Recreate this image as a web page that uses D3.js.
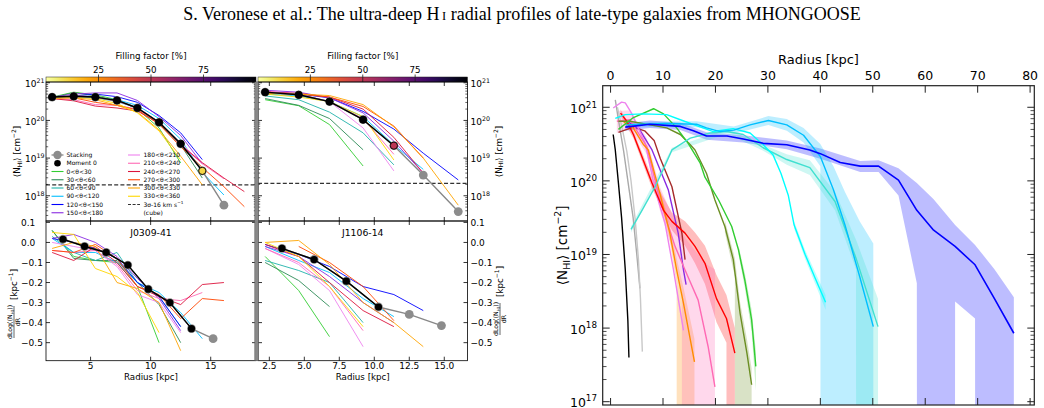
<!DOCTYPE html>
<html><head><meta charset="utf-8">
<script src="https://cdn.jsdelivr.net/npm/d3@7/dist/d3.min.js"></script>
<style>html,body{margin:0;padding:0;background:#fff;}svg{display:block;}</style>
</head><body>
<svg id="fig" width="1044" height="408" xmlns="http://www.w3.org/2000/svg"></svg>
<script>
// ======================= DATA =======================
const titleA = "S. Veronese et al.: The ultra-deep H";
const titleB = " radial profiles of late-type galaxies from MHONGOOSE";
const fillTicks = [25, 50, 75];
const sectorLabels = ["0<θ<30","30<θ<60","60<θ<90","90<θ<120","120<θ<150","150<θ<180",
  "180<θ<210","210<θ<240","240<θ<270","270<θ<300","300<θ<330","330<θ<360"];
const galaxyNames = ["J0309-41", "J1106-14"];
const xTicksA = [5, 10, 15];
const xTicksB = [2.5, 5, 7.5, 10, 12.5, 15];
const xTickLabelsB = ["2.5","5.0","7.5","10.0","12.5","15.0"];
const yTicksProf = [18, 19, 20, 21];            // log10 N_HI
const yTicksDeriv = [0.1, 0, -0.1, -0.2, -0.3, -0.4, -0.5];

// ---- J0309-41 : radial profiles (log10 <N_HI>) ----
const rA = [1.8, 3.6, 5.4, 7.2, 8.9, 10.7, 12.5, 14.3, 16.1, 17.8];
const mom0A = [20.62, 20.64, 20.62, 20.53, 20.33, 19.95, 19.38, 18.66];
const ffMom0A = [100, 100, 100, 100, 100, 100, 100, 10];
const stackA = [20.62, 20.64, 20.62, 20.53, 20.33, 19.95, 19.38, 18.66, 17.75];
const sectorsA = [
  [20.62, 20.75, 20.68, 20.55, 20.30, 19.80, 18.87],
  [20.60, 20.74, 20.65, 20.52, 20.33, 19.90, 19.35, 18.47],
  [20.60, 20.65, 20.60, 20.50, 20.33, 19.95, 19.40, 18.70],
  [20.60, 20.62, 20.60, 20.55, 20.40, 20.05, 19.50, 18.62, 18.02],
  [20.60, 20.65, 20.70, 20.63, 20.48, 20.13, 19.67, 18.96],
  [20.62, 20.70, 20.73, 20.73, 20.53, 20.10, 19.60, 18.85],
  [20.60, 20.66, 20.62, 20.50, 20.35, 19.95, 19.40, 18.85],
  [20.58, 20.55, 20.42, 20.40, 20.30, 19.93, 19.35, 18.85, 18.45],
  [20.58, 20.52, 20.38, 20.33, 20.25, 19.92, 19.35, 18.88, 18.47, 18.11],
  [20.60, 20.60, 20.48, 20.40, 20.28, 19.90, 19.30, 18.75, 18.24, 17.71],
  [20.58, 20.60, 20.55, 20.40, 20.22, 19.75, 19.05, 18.29],
  [20.60, 20.62, 20.58, 20.45, 20.20, 19.72, 18.95]
];
const cutA = 18.29;
// ---- J0309-41 : derivatives ----
const rdA = [2.7, 4.5, 6.3, 8.1, 9.8, 11.6, 13.4, 15.2];
const dMom0A = [0.016, -0.02, -0.05, -0.113, -0.233, -0.30, -0.43];
const dStackA = [0.016, -0.02, -0.05, -0.113, -0.233, -0.30, -0.43, -0.48];
const dSectorsA = [
  [0.06, -0.07, -0.09, -0.10, -0.22, -0.50],
  [0.06, -0.08, -0.09, -0.09, -0.20, -0.31, -0.50],
  [0.03, -0.05, -0.09, -0.05, -0.20, -0.27, -0.42],
  [0.02, -0.05, -0.05, -0.10, -0.20, -0.25, -0.35, -0.48],
  [0.02, 0.00, -0.03, -0.08, -0.20, -0.27, -0.42],
  [0.02, 0.04, 0.00, -0.07, -0.18, -0.28, -0.44],
  [0.00, -0.02, -0.04, -0.12, -0.26, -0.30, -0.45],
  [-0.04, -0.05, -0.04, -0.11, -0.24, -0.28, -0.29, -0.25],
  [-0.05, -0.09, -0.02, -0.10, -0.22, -0.27, -0.31, -0.21, -0.20],
  [-0.04, -0.05, -0.01, -0.08, -0.22, -0.26, -0.38, -0.28, -0.29],
  [-0.03, 0.00, -0.02, -0.20, -0.23, -0.30, -0.54],
  [0.05, 0.04, -0.13, -0.17, -0.25, -0.45]
];

// ---- J1106-14 : radial profiles ----
const rB = [2.2, 4.6, 6.8, 9.2, 11.4, 13.5, 16.0];
const mom0B = [20.75, 20.68, 20.50, 20.02, 19.33];
const ffMom0B = [100, 100, 100, 100, 50];
const stackB = [20.75, 20.68, 20.50, 20.02, 19.33, 18.55, 17.58];
const sectorsB = [
  [20.55, 20.39, 19.89, 18.79],
  [20.58, 20.40, 20.05, 19.22],
  [20.65, 20.55, 20.22, 19.67, 18.82],
  [20.70, 20.65, 20.50, 20.10, 19.35, 18.70],
  [20.75, 20.70, 20.60, 20.24, 19.77, 19.13, 18.42],
  [20.80, 20.75, 20.60, 20.20, 19.45, 18.60],
  [20.78, 20.70, 20.50, 19.80, 18.66],
  [20.78, 20.70, 20.50, 20.05, 19.10],
  [20.75, 20.72, 20.62, 20.30, 19.55, 18.60],
  [20.72, 20.70, 20.62, 20.37, 19.85, 19.00],
  [20.72, 20.70, 20.66, 20.42, 19.83, 19.00, 17.75],
  [20.70, 20.62, 20.50, 20.10, 18.95]
];
const cutB = 18.33;
// ---- J1106-14 : derivatives ----
const rdB = [3.4, 5.7, 8.0, 10.3, 12.5, 14.8];
const dMom0B = [-0.03, -0.085, -0.193, -0.322];
const dStackB = [-0.03, -0.085, -0.193, -0.322, -0.359, -0.415];
const dSectorsB = [
  [-0.07, -0.24, -0.47],
  [-0.10, -0.19, -0.32],
  [-0.09, -0.14, -0.20, -0.40],
  [-0.02, -0.09, -0.15, -0.28, -0.37],
  [-0.01, -0.06, -0.12, -0.22, -0.26, -0.34],
  [-0.02, -0.07, -0.17, -0.30, -0.40],
  [-0.03, -0.11, -0.24, -0.52],
  [-0.03, -0.10, -0.22, -0.44],
  [-0.01, -0.07, -0.20, -0.34, -0.42],
  [null, -0.02, -0.10, -0.22, -0.39],
  [0.00, 0.01, -0.11, -0.30, -0.40, -0.52],
  [0.00, -0.07, -0.22, -0.42]
];

// ---- Right panel: profiles of the sample, [R kpc, log10 <N_HI>] ----
const bigXTicks = [0, 10, 20, 30, 40, 50, 60, 70, 80];
const bigYTicks = [17, 18, 19, 20, 21];
const profBlack = [[0.5,20.63],[0.9,20.42],[1.5,19.97],[2.1,19.5],[2.8,18.8],[3.3,18.1],[3.5,17.6]];
const profGrey1 = [[0.9,21.1],[1.8,20.7],[2.5,20.4],[3.4,19.95],[4.3,19.5],[5.0,19.0],[5.6,18.54]];
const profGrey2 = [[1.3,21.0],[2.2,20.72],[3.1,20.4],[3.9,20.0],[4.7,19.47],[5.3,18.95],[5.7,18.4],[6.06,17.68]];
const profTurq = [[3.9,19.34],[6,19.6],[8.5,19.92],[10,20.15],[11.7,20.42],[15.2,20.58],[19,20.65],[22.2,20.67],[25.3,20.63],[29.1,20.45],[33.6,20.29],[38,20.18],[42.8,19.72],[46.8,18.95],[51,18.02]];
const profSky = [[3.0,20.76],[5.6,20.77],[10.5,20.78],[16.4,20.77],[18.3,20.72],[20.9,20.67],[23.5,20.69],[26.6,20.76],[30.1,20.82],[33.6,20.76],[36.8,20.62],[40,20.33],[42.5,19.88],[44.7,19.4],[47.5,18.7],[50.1,18.02]];
const profCyan = [[0.9,20.85],[2.8,20.9],[6.3,20.91],[10.7,20.9],[13.3,20.83],[16.4,20.75],[19.6,20.67],[23.4,20.71],[26.6,20.65],[29.1,20.49],[31.0,20.35],[32.5,20.1],[33.9,19.8],[35.0,19.4],[37.1,19.0],[39,18.68],[41,18.35]];
const profBlue = [[2.8,20.73],[7.5,20.77],[13.3,20.74],[15.8,20.68],[18.3,20.61],[22.2,20.61],[25.3,20.57],[29.1,20.51],[33.6,20.49],[38,20.42],[40,20.37],[43.8,20.25],[47.6,20.2],[51.1,20.2],[54.9,20.01],[58.4,19.6],[61.6,19.33],[65.7,19.11],[69.5,18.86],[73.2,18.4],[76.9,17.93]];
const profGreen = [[1.5,20.7],[4.35,20.86],[8.2,20.98],[10.1,20.91],[12.6,20.72],[14.8,20.51],[17.1,20.24],[18,20.05],[20.6,19.74],[23.1,19.38],[24.4,19.06],[25.6,18.65],[26.9,18.11],[27.7,17.48]];
const profOlive = [[1.5,20.81],[3.7,20.81],[10.7,20.72],[13.3,20.63],[15.2,20.49],[16.1,20.42],[18.3,20.1],[19.9,19.74],[21.8,19.38],[23.4,18.93],[24.7,18.2],[26,17.66],[26.9,17.23]];
const profRed = [[1.9,20.92],[3.1,20.81],[4.35,20.63],[5.6,20.4],[7.9,19.97],[10.1,19.6],[11.7,19.45],[14.2,19.29],[16.1,19.11],[18,18.88],[20.2,18.4],[22.1,18.13],[23.7,17.66]];
const profOrange = [[2.5,20.8],[4.3,20.72],[6.3,20.49],[7.2,20.42],[9.4,19.83],[11.3,19.29],[12.6,18.79],[13.9,18.34],[16.0,17.54]];
const profViolet = [[0.5,20.99],[2.1,21.07],[2.8,21.06],[4,20.92],[6.6,20.51],[8.5,19.88],[10.4,19.42],[12,18.79],[13.9,17.97]];
const profPink = [[1.2,20.81],[3.7,20.83],[6.9,20.47],[9.4,19.74],[12.3,19.11],[14.2,18.79],[16.7,18.38],[18.6,17.75],[19.9,17.2]];
const profPurple = [[3.4,20.8],[5.5,20.7],[7.9,20.42],[11,19.88],[12.9,19.29],[13.9,18.79],[14.4,18.59]];
const profBrown = [[1.5,20.66],[4.35,20.73],[6.5,20.68],[8.3,20.55],[9.5,20.3],[11.7,19.92],[13.6,19.29],[14.2,18.93]];
// uncertainty bands [R, log lower, log upper]; -300 = lower bound below the axis
const bandBlue = [[2.8,20.68,20.78],[7.5,20.72,20.82],[13.3,20.69,20.79],[18.3,20.56,20.66],[25.3,20.52,20.62],[33.6,20.43,20.55],[40,20.3,20.44],[47.6,20.12,20.27],[51.1,20.12,20.28],[54.9,19.8,20.17],[58.4,18.61,19.97],[61.6,-300,19.75],[65.7,18.36,19.4],[69.5,18.13,19.13],[73.2,-300,18.8],[76.9,-300,18.42]];
const bandSky = [[3.0,20.73,20.8],[16.4,20.73,20.81],[23.5,20.64,20.74],[30.1,20.76,20.88],[33.6,20.68,20.84],[36.8,20.52,20.72],[40,20.2,20.5],[42.5,-300,20.2],[44.7,-300,19.85],[47.5,-300,19.45],[50.1,-300,19.15]];
const bandTurq = [[3.9,19.3,19.38],[11.7,20.39,20.45],[22.2,20.64,20.7],[29.1,20.41,20.49],[33.6,20.22,20.36],[38,20.08,20.28],[42.8,19.6,19.85],[46.8,18.8,19.2],[48.9,-300,18.8],[51,-300,18.4]];
const bandCyan = [[35,19.35,19.45],[37.1,18.94,19.06],[41,18.25,18.45]];
const bandGreen = [[24.4,19.0,19.12],[25.6,18.55,18.75],[26.9,17.95,18.25],[27.7,17.15,17.7]];
const bandOlive = [[21.8,19.3,19.46],[23.7,18.7,18.95],[24.7,-300,18.35],[26,-300,17.85],[26.9,-300,17.45]];
const bandRed = [[1.9,20.88,20.97],[4.35,20.58,20.68],[7.9,19.9,20.05],[11.7,19.33,19.57],[14.2,19.12,19.45],[16.1,18.88,19.3],[18,18.6,19.12],[20.2,18.08,18.72],[22.1,17.8,18.45],[23.7,-300,18.0]];
const bandOrange = [[9.4,19.76,19.9],[11.3,19.18,19.4],[12.6,18.6,18.95],[13.9,-300,18.55],[16.0,-300,17.85]];
const bandPink = [[1.2,20.65,20.95],[3.7,20.72,20.96],[6.9,20.36,20.58],[9.4,19.6,19.92],[12.3,18.95,19.45],[13.6,18.5,19.3],[14.5,-300,19.2],[16.7,-300,19.0],[18.6,-300,18.85],[19.9,-300,18.8]];

// ======================= STYLE =======================
const F = '"DejaVu Sans", Verdana, sans-serif';
const sectorColors = ["#32cd32","#2e8b57","#20b2aa","#00bfff","#0000ff","#8a2be2",
  "#ee82ee","#ff69b4","#dc143c","#ff4500","#ffa500","#ffd700"];
const ffColor = v => d3.interpolateInferno(1 - v / 100);

const svg = d3.select("#fig");
const defs = svg.append("defs");
let clipN = 0;
function clip(x0, y0, x1, y1) {
  const id = "cl" + (clipN++);
  defs.append("clipPath").attr("id", id).append("rect")
    .attr("x", x0).attr("y", y0).attr("width", x1 - x0).attr("height", y1 - y0);
  return `url(#${id})`;
}
function powLabel(g, x, y, exp, fs, anchor) {
  const t = g.append("text").attr("x", x).attr("y", y).attr("text-anchor", anchor)
    .attr("font-family", F).attr("font-size", fs).attr("fill", "#000");
  t.append("tspan").text("10");
  t.append("tspan").attr("dy", -fs * 0.45).attr("font-size", fs * 0.7).text(exp);
  return t;
}
function nhiLabel(g, x, y, fs) {
  const t = g.append("text").attr("transform", `translate(${x},${y}) rotate(-90)`)
    .attr("text-anchor", "middle").attr("font-family", F).attr("font-size", fs);
  t.append("tspan").text("⟨N");
  t.append("tspan").attr("font-size", fs * 0.7).attr("dy", fs * 0.22).text("HI");
  t.append("tspan").attr("dy", -fs * 0.22).text("⟩ [cm");
  t.append("tspan").attr("font-size", fs * 0.7).attr("dy", -fs * 0.42).text("−2");
  t.append("tspan").attr("dy", fs * 0.42).text("]");
}
function derivLabel(g, x, y, fs) {
  const gg = g.append("g").attr("transform", `translate(${x},${y}) rotate(-90)`);
  const sf = fs * 0.72;
  const numW = 40;
  const off = -27;
  const num = gg.append("text").attr("x", off).attr("y", -1.6).attr("text-anchor", "middle")
    .attr("font-family", F).attr("font-size", sf);
  num.append("tspan").text("dLog(⟨N");
  num.append("tspan").attr("font-size", sf * 0.7).attr("dy", sf * 0.2).text("HI");
  num.append("tspan").attr("dy", -sf * 0.2).text("⟩)");
  gg.append("line").attr("x1", off - numW / 2 + 4).attr("x2", off + numW / 2 - 4).attr("y1", 0).attr("y2", 0)
    .attr("stroke", "#000").attr("stroke-width", 0.6);
  gg.append("text").attr("x", off).attr("y", sf * 0.95).attr("text-anchor", "middle")
    .attr("font-family", F).attr("font-size", sf).text("dR");
  const u = gg.append("text").attr("x", off + numW / 2 + 2).attr("y", fs * 0.36).attr("text-anchor", "start")
    .attr("font-family", F).attr("font-size", fs);
  u.append("tspan").text("[kpc");
  u.append("tspan").attr("font-size", fs * 0.7).attr("dy", -fs * 0.42).text("−1");
  u.append("tspan").attr("dy", fs * 0.42).text("]");
}
function logMinor(lo, hi) {
  const out = [];
  for (let n = Math.floor(lo); n <= Math.ceil(hi); n++)
    for (let k = 2; k < 10; k++) { const l = n + Math.log10(k); if (l > lo && l < hi) out.push(Math.pow(10, l)); }
  return out;
}
function line(g, pts, color, w) {
  g.append("path").datum(pts).attr("fill", "none").attr("stroke", color).attr("stroke-width", w)
    .attr("stroke-linejoin", "round").attr("d", d3.line().defined(d => d[1] != null).x(d => d[0]).y(d => d[1]));
}

// ======================= TITLE =======================
const tt = svg.append("text").attr("x", 522).attr("y", 20).attr("text-anchor", "middle")
  .attr("font-family", '"Liberation Serif","Times New Roman",serif').attr("font-size", 18).attr("fill", "#000");
tt.append("tspan").text(titleA);
tt.append("tspan").attr("font-size", 12.5).text("\u2009I");
tt.append("tspan").text(titleB);

// ======================= LEFT FIGURE =======================
const colX = [[46, 256], [258, 467.5]];
const xA = d3.scaleLinear().domain([1.29, 18.77]).range(colX[0]);
const xB = d3.scaleLinear().domain([1.69, 16.66]).range(colX[1]);
const yP = d3.scaleLog().domain([Math.pow(10, 17.33), Math.pow(10, 21.02)]).range([221, 82]);
const yD = d3.scaleLinear().domain([-0.59, 0.107]).range([360.7, 221]);
const ffScale = [d3.scaleLinear().domain([0, 100]).range(colX[0]), d3.scaleLinear().domain([0, 100]).range(colX[1])];
const LW = 0.8, fsL = 8.7;

// colour bars
const grad = defs.append("linearGradient").attr("id", "ffgrad").attr("x1", "0").attr("x2", "1").attr("y1", "0").attr("y2", "0");
d3.range(0, 1.0001, 0.05).forEach(t => grad.append("stop").attr("offset", t).attr("stop-color", ffColor(t * 100)));
[0, 1].forEach(c => {
  const s = ffScale[c];
  svg.append("rect").attr("x", s(0)).attr("y", 77).attr("width", s(100) - s(0)).attr("height", 5)
    .attr("fill", "url(#ffgrad)").attr("stroke", "#222").attr("stroke-width", 0.5);
  fillTicks.forEach(v => {
    svg.append("line").attr("x1", s(v)).attr("x2", s(v)).attr("y1", 74.5).attr("y2", 82).attr("stroke", "#222").attr("stroke-width", 0.8);
    svg.append("text").attr("x", s(v)).attr("y", 72.5).attr("text-anchor", "middle").attr("font-family", F)
      .attr("font-size", fsL).text(v);
  });
  svg.append("text").attr("x", (s(0) + s(100)) / 2).attr("y", 59.3).attr("text-anchor", "middle")
    .attr("font-family", F).attr("font-size", fsL).text("Filling factor [%]");
});

function drawProfPanel(c, x, rr, secs, mom0, ffm, stack, cut) {
  const [x0, x1] = colX[c];
  const g = svg.append("g");
  const pg = g.append("g").attr("clip-path", clip(x0, 82, x1, 221));
  pg.append("line").attr("x1", x0).attr("x2", x1).attr("y1", yP(Math.pow(10, cut))).attr("y2", yP(Math.pow(10, cut)))
    .attr("stroke", "#333").attr("stroke-width", 1.1).attr("stroke-dasharray", "4,2.2");
  secs.forEach((s, i) => line(pg, s.map((v, j) => [x(rr[j]), yP(Math.pow(10, v))]), sectorColors[i], 0.9));
  line(pg, stack.map((v, j) => [x(rr[j]), yP(Math.pow(10, v))]), "#888", 1.4);
  stack.forEach((v, j) => pg.append("circle").attr("cx", x(rr[j])).attr("cy", yP(Math.pow(10, v))).attr("r", 4.4).attr("fill", "#8c8c8c"));
  line(pg, mom0.map((v, j) => [x(rr[j]), yP(Math.pow(10, v))]), "#000", 1.4);
  mom0.forEach((v, j) => pg.append("circle").attr("cx", x(rr[j])).attr("cy", yP(Math.pow(10, v))).attr("r", 3.6)
    .attr("fill", ffColor(ffm[j])).attr("stroke", "#000").attr("stroke-width", 0.9));
  return g;
}
function drawDerivPanel(c, x, rr, secs, rd, dm, ds, name) {
  const [x0, x1] = colX[c];
  const g = svg.append("g");
  const pg = g.append("g").attr("clip-path", clip(x0, 221, x1, 360.7));
  secs.forEach((s, i) => line(pg, s.map((v, j) => [x(rr[j]), v == null ? null : yD(v)]), sectorColors[i], 0.9));
  line(pg, ds.map((v, j) => [x(rd[j]), yD(v)]), "#888", 1.4);
  ds.forEach((v, j) => pg.append("circle").attr("cx", x(rd[j])).attr("cy", yD(v)).attr("r", 4.4).attr("fill", "#8c8c8c"));
  line(pg, dm.map((v, j) => [x(rd[j]), yD(v)]), "#000", 1.4);
  dm.forEach((v, j) => pg.append("circle").attr("cx", x(rd[j])).attr("cy", yD(v)).attr("r", 3.6).attr("fill", "#000"));
  g.append("text").attr("x", (x0 + x1) / 2).attr("y", 235.5).attr("text-anchor", "middle").attr("font-family", F)
    .attr("font-size", 9.3).text(name);
  return g;
}
drawProfPanel(0, xA, rA, sectorsA, mom0A, ffMom0A, stackA, cutA);
drawProfPanel(1, xB, rB, sectorsB, mom0B, ffMom0B, stackB, cutB);
drawDerivPanel(0, xA, rA, dSectorsA, rdA, dMom0A, dStackA, galaxyNames[0]);
drawDerivPanel(1, xB, rB, dSectorsB, rdB, dMom0B, dStackB, galaxyNames[1]);

// frames & ticks of the small panels
const axG = svg.append("g");
const minorP = logMinor(17.33, 21.02);
[0, 1].forEach(c => {
  const [x0, x1] = colX[c];
  const x = c === 0 ? xA : xB;
  const xt = c === 0 ? xTicksA : xTicksB;
  [[82, 221], [221, 360.7]].forEach(([y0, y1]) => {
    axG.append("rect").attr("x", x0).attr("y", y0).attr("width", x1 - x0).attr("height", y1 - y0)
      .attr("fill", "none").attr("stroke", "#000").attr("stroke-width", LW);
    xt.forEach(v => {
      axG.append("line").attr("x1", x(v)).attr("x2", x(v)).attr("y1", y0).attr("y2", y0 + 4).attr("stroke", "#000").attr("stroke-width", LW);
      axG.append("line").attr("x1", x(v)).attr("x2", x(v)).attr("y1", y1).attr("y2", y1 - 4).attr("stroke", "#000").attr("stroke-width", LW);
    });
  });
  yTicksProf.forEach(l => {
    const y = yP(Math.pow(10, l));
    axG.append("line").attr("x1", x0).attr("x2", x0 + 4).attr("y1", y).attr("y2", y).attr("stroke", "#000").attr("stroke-width", LW);
    axG.append("line").attr("x1", x1).attr("x2", x1 - 4).attr("y1", y).attr("y2", y).attr("stroke", "#000").attr("stroke-width", LW);
    if (c === 0) powLabel(axG, 25, y + 4.2, String(l), 9, "start");
    else powLabel(axG, 470.5, y + 4.2, String(l), 9, "start");
  });
  minorP.forEach(v => {
    const y = yP(v);
    axG.append("line").attr("x1", x0).attr("x2", x0 + 2.2).attr("y1", y).attr("y2", y).attr("stroke", "#000").attr("stroke-width", 0.6);
    axG.append("line").attr("x1", x1).attr("x2", x1 - 2.2).attr("y1", y).attr("y2", y).attr("stroke", "#000").attr("stroke-width", 0.6);
  });
  yTicksDeriv.forEach(v => {
    const y = yD(v);
    axG.append("line").attr("x1", x0).attr("x2", x0 + 4).attr("y1", y).attr("y2", y).attr("stroke", "#000").attr("stroke-width", LW);
    axG.append("line").attr("x1", x1).attr("x2", x1 - 4).attr("y1", y).attr("y2", y).attr("stroke", "#000").attr("stroke-width", LW);
    const lab = (v < 0 ? "−" : "") + Math.abs(v).toFixed(1);
    axG.append("text").attr("x", c === 0 ? 21 : 470.5).attr("y", y + 3.2).attr("text-anchor", "start")
      .attr("font-family", F).attr("font-size", 9).text(lab);
  });
  xt.forEach((v, i) => {
    axG.append("text").attr("x", x(v)).attr("y", 369).attr("text-anchor", "middle").attr("font-family", F)
      .attr("font-size", 9).text(c === 0 ? String(v) : xTickLabelsB[i]);
  });
  axG.append("text").attr("x", (x0 + x1) / 2).attr("y", 379.5).attr("text-anchor", "middle").attr("font-family", F)
    .attr("font-size", fsL).text("Radius [kpc]");
});
nhiLabel(axG, 20, 151.5, fsL);
nhiLabel(axG, 501.5, 151.5, fsL);
derivLabel(axG, 14, 295, fsL);
derivLabel(axG, 500, 292, fsL);
// separator between the two galaxies
svg.append("rect").attr("x", 254.8).attr("y", 82).attr("width", 3.6).attr("height", 278.7).attr("fill", "#888")
  .attr("stroke", "#555").attr("stroke-width", 0.5);

// legend
const legFs = 6;
const legY = i => 155 + i * 8.25;
const leg = svg.append("g").attr("font-family", F).attr("font-size", legFs);
function legText(x, i, txt, sup) {
  const t = leg.append("text").attr("x", x).attr("y", legY(i) + 2.1);
  t.append("tspan").text(txt);
  if (sup) { t.append("tspan").attr("dy", -2.3).attr("font-size", legFs * 0.7).text(sup[0]); t.append("tspan").attr("dy", 2.3).text(sup[1]); }
}
leg.append("line").attr("x1", 51.5).attr("x2", 63.5).attr("y1", legY(0)).attr("y2", legY(0)).attr("stroke", "#888").attr("stroke-width", 1.3);
leg.append("circle").attr("cx", 57.5).attr("cy", legY(0)).attr("r", 4.2).attr("fill", "#8c8c8c");
legText(66.5, 0, "Stacking");
leg.append("circle").attr("cx", 57.5).attr("cy", legY(1)).attr("r", 3.3).attr("fill", "#000");
legText(66.5, 1, "Moment 0");
sectorLabels.forEach((s, k) => {
  const col = k < 6 ? 0 : 1, i = k < 6 ? k + 2 : k - 6;
  const hx = col === 0 ? 51.5 : 128, tx = col === 0 ? 66.5 : 143.5;
  leg.append("line").attr("x1", hx).attr("x2", hx + 12).attr("y1", legY(i)).attr("y2", legY(i))
    .attr("stroke", sectorColors[k]).attr("stroke-width", 1.1);
  legText(tx, i, s);
});
leg.append("line").attr("x1", 128).attr("x2", 140).attr("y1", legY(6)).attr("y2", legY(6))
  .attr("stroke", "#333").attr("stroke-width", 1.1).attr("stroke-dasharray", "3,1.6");
legText(143.5, 6, "3σ-16 km s", ["−1", ""]);
legText(143.5, 7, "(cube)");

// ======================= RIGHT FIGURE =======================
const RX0 = 602.7, RX1 = 1034.3, RY0 = 85.7, RY1 = 405;
const xR = d3.scaleLinear().domain([-1.5, 80.8]).range([RX0, RX1]);
const yR = d3.scaleLog().domain([Math.pow(10, 16.955), Math.pow(10, 21.293)]).range([RY1, RY0]);
const big = svg.append("g");
const bpg = big.append("g").attr("clip-path", clip(RX0, RY0, RX1, RY1));
const bands = [
  [bandBlue, "#0000ff"], [bandSky, "#00bfff"], [bandTurq, "#40e0d0"], [bandCyan, "#00ffff"],
  [bandGreen, "#32cd32"], [bandOlive, "#6b8e23"], [bandRed, "#ff0000"], [bandOrange, "#ff8c00"], [bandPink, "#ff69b4"]
];
const area = d3.area().x(d => xR(d[0])).y0(d => yR(Math.pow(10, d[1]))).y1(d => yR(Math.pow(10, d[2])));
bands.forEach(([d, c]) => bpg.append("path").datum(d).attr("d", area).attr("fill", c).attr("fill-opacity", 0.26).attr("stroke", "none"));
const profs = [
  [profGrey1, "#a9a9a9"], [profGrey2, "#c8c8c8"], [profBlack, "#000000"],
  [profBrown, "#a52a2a"], [profPurple, "#8a2be2"], [profViolet, "#ee82ee"], [profPink, "#ff69b4"],
  [profOrange, "#ff8c00"], [profRed, "#ff0000"], [profOlive, "#6b8e23"], [profGreen, "#32cd32"],
  [profTurq, "#40e0d0"], [profCyan, "#00ffff"], [profSky, "#00bfff"], [profBlue, "#0000ff"]
];
profs.forEach(([d, c]) => line(bpg, d.map(p => [xR(p[0]), yR(Math.pow(10, p[1]))]), c, c === "#0000ff" ? 1.6 : 1.4));

// frame & ticks
const fsR = 12.5;
big.append("rect").attr("x", RX0).attr("y", RY0).attr("width", RX1 - RX0).attr("height", RY1 - RY0)
  .attr("fill", "none").attr("stroke", "#222").attr("stroke-width", 1.2);
bigXTicks.forEach(v => {
  const x = xR(v);
  big.append("line").attr("x1", x).attr("x2", x).attr("y1", RY0).attr("y2", RY0 + 7).attr("stroke", "#222").attr("stroke-width", 1);
  big.append("line").attr("x1", x).attr("x2", x).attr("y1", RY1).attr("y2", RY1 - 7).attr("stroke", "#222").attr("stroke-width", 1);
  big.append("text").attr("x", x).attr("y", 79.5).attr("text-anchor", "middle").attr("font-family", F)
    .attr("font-size", fsR).text(v);
});
bigYTicks.forEach(l => {
  const y = yR(Math.pow(10, l));
  big.append("line").attr("x1", RX0).attr("x2", RX0 + 7).attr("y1", y).attr("y2", y).attr("stroke", "#222").attr("stroke-width", 1);
  big.append("line").attr("x1", RX1).attr("x2", RX1 - 7).attr("y1", y).attr("y2", y).attr("stroke", "#222").attr("stroke-width", 1);
  powLabel(big, 597, Math.min(y + 6, 406.5), String(l), fsR, "end");
});
logMinor(16.955, 21.293).forEach(v => {
  const y = yR(v);
  big.append("line").attr("x1", RX0).attr("x2", RX0 + 3.8).attr("y1", y).attr("y2", y).attr("stroke", "#222").attr("stroke-width", 0.8);
  big.append("line").attr("x1", RX1).attr("x2", RX1 - 3.8).attr("y1", y).attr("y2", y).attr("stroke", "#222").attr("stroke-width", 0.8);
});
big.append("text").attr("x", (RX0 + RX1) / 2).attr("y", 63.5).attr("text-anchor", "middle").attr("font-family", F)
  .attr("font-size", 13).text("Radius [kpc]");
nhiLabel(big, 567, 245.3, 13.5);
</script>
</body></html>
